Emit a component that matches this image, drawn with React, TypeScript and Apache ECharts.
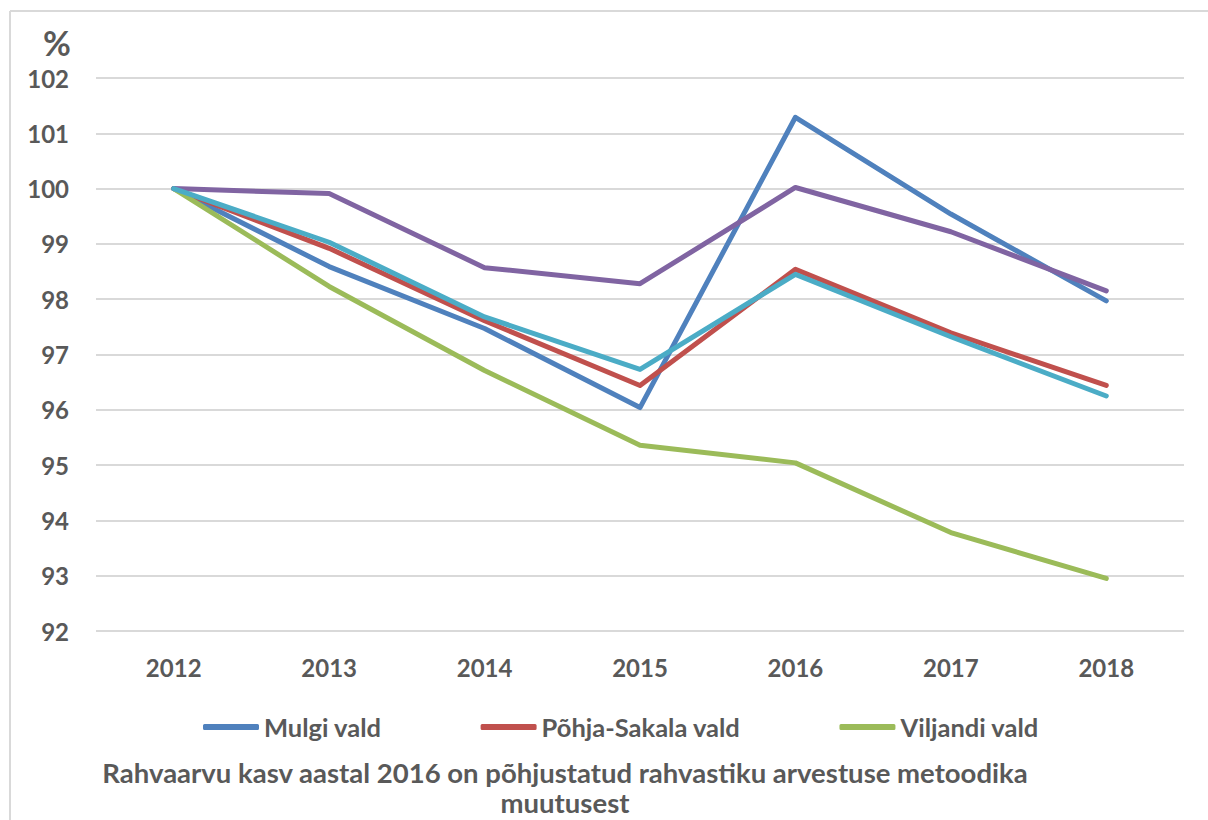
import React, { useEffect, useRef } from "react";
import * as echarts from "echarts";

const years = ["2012", "2013", "2014", "2015", "2016", "2017", "2018"];
const mulgi = [100, 98.59, 97.47, 96.04, 101.29, 99.54, 97.97];
const pohjaSakala = [100, 98.92, 97.61, 96.44, 98.54, 97.39, 96.44];
const viljandi = [100, 98.23, 96.71, 95.36, 95.04, 93.78, 92.95];
const series4 = [100, 99.91, 98.57, 98.28, 100.02, 99.22, 98.15];
const series5 = [100, 99.03, 97.68, 96.73, 98.45, 97.32, 96.25];
const legendNames = ["Mulgi vald", "Põhja-Sakala vald", "Viljandi vald"];
const footnote = [
  "Rahvaarvu kasv aastal 2016 on põhjustatud rahvastiku arvestuse metoodika",
  "muutusest",
];

const FONT = "Lato, 'Open Sans', 'Liberation Sans', sans-serif";
const TEXT = "#595959";
const GRID = "#d9d9d9";

export default function App() {
  const ref = useRef<HTMLDivElement>(null);
  useEffect(() => {
    if (!ref.current) return;
    const chart = echarts.init(ref.current, null, { renderer: "svg" });
    const mk = (name: string, data: number[], color: string) => ({
      name,
      type: "line",
      data,
      symbol: "none",
      showSymbol: false,
      color,
      lineStyle: { width: 5, color, cap: "round", join: "round" },
      emphasis: { disabled: true },
    });
    chart.setOption({
      animation: false,
      backgroundColor: "#ffffff",
      textStyle: { fontFamily: FONT },
      grid: { left: 96, right: 24, top: 78, bottom: 189 },
      xAxis: {
        type: "category",
        data: years,
        boundaryGap: true,
        axisLine: { show: false },
        axisTick: { show: false },
        axisLabel: {
          fontSize: 24,
          fontWeight: "bold",
          color: TEXT,
          fontFamily: FONT,
          margin: 24,
        },
      },
      yAxis: {
        type: "value",
        min: 92,
        max: 102,
        interval: 1,
        axisLine: { show: false },
        axisTick: { show: false },
        axisLabel: {
          fontSize: 24,
          fontWeight: "bold",
          color: TEXT,
          fontFamily: FONT,
          margin: 27,
        },
        splitLine: { lineStyle: { color: GRID, width: 2 } },
      },
      legend: {
        data: legendNames,
        left: 198,
        top: 709,
        icon: "roundRect",
        itemWidth: 56,
        itemHeight: 6,
        itemGap: 99,
        textStyle: {
          fontSize: 25.5,
          fontWeight: "bold",
          color: TEXT,
          fontFamily: FONT,
        },
      },
      graphic: [
        {
          type: "line",
          shape: { x1: 10, y1: 11, x2: 1208, y2: 11 },
          style: { stroke: GRID, lineWidth: 2 },
          silent: true,
        },
        {
          type: "line",
          shape: { x1: 10, y1: 11, x2: 10, y2: 820 },
          style: { stroke: GRID, lineWidth: 2 },
          silent: true,
        },
        {
          type: "text",
          x: 57,
          y: 42,
          style: {
            text: "%",
            fontSize: 34,
            fontWeight: "bold",
            fill: TEXT,
            fontFamily: FONT,
            align: "center",
            verticalAlign: "middle",
          },
        },
        {
          type: "text",
          x: 565,
          y: 757,
          style: {
            text: footnote.join("\n"),
            fontSize: 27.5,
            lineHeight: 30,
            fontWeight: "bold",
            fill: TEXT,
            fontFamily: FONT,
            align: "center",
            verticalAlign: "top",
          },
        },
      ],
      series: [
        mk("Mulgi vald", mulgi, "#4f81bd"),
        mk("Põhja-Sakala vald", pohjaSakala, "#c0504d"),
        mk("Viljandi vald", viljandi, "#9bbb59"),
        mk("Seeria 4", series4, "#8064a2"),
        mk("Seeria 5", series5, "#4bacc6"),
      ],
    });
    return () => chart.dispose();
  }, []);
  return (
    <div
      ref={ref}
      style={{ position: "fixed", left: 0, top: 0, width: 1208, height: 820 }}
    />
  );
}
